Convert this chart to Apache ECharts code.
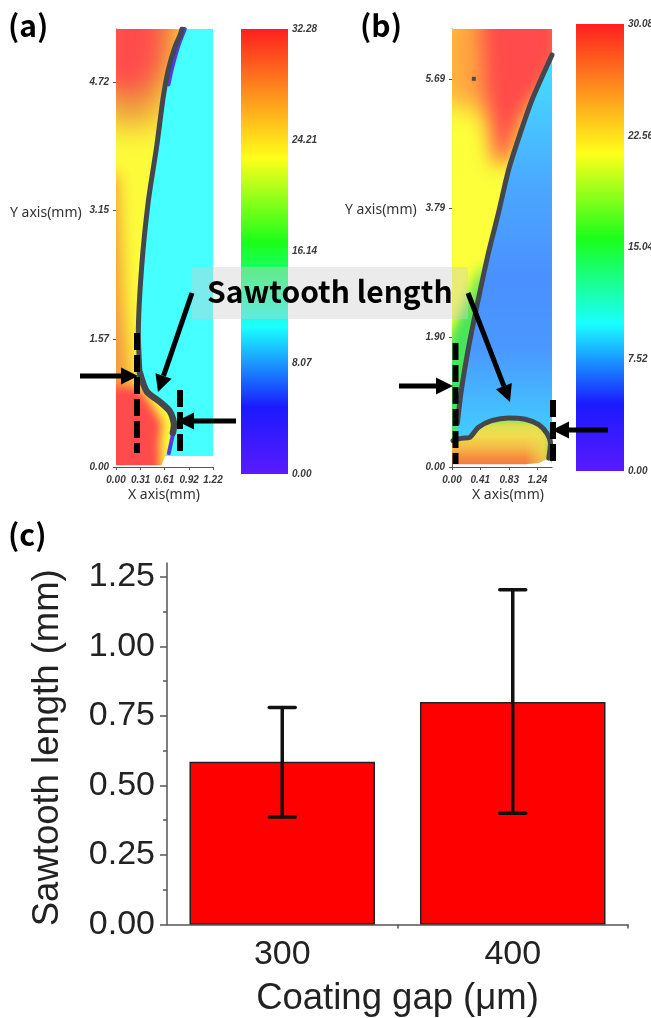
<!DOCTYPE html>
<html>
<head>
<meta charset="utf-8">
<style>html,body{margin:0;padding:0;background:#fff}#c{width:651px;height:1018px;filter:blur(0.6px)}</style>
<script src="https://cdn.jsdelivr.net/npm/echarts@6/dist/echarts.min.js"></script>
</head>
<body>
<div id="c"></div>
<script>
// ---- Panel (a) data, mm ----
const aXTicks = [0, 0.31, 0.61, 0.92, 1.22];
const aYTicks = [0, 1.57, 3.15, 4.72];
const aInterfaceUpper = [[0.83,5.38],[0.805,5.30],[0.742,5.16],[0.658,4.88],[0.595,4.55],[0.512,3.94],[0.407,3.27],[0.323,2.46],[0.281,1.64],[0.302,1.15]];
const aInterfaceLower = [[0.302,1.15],[0.386,0.93],[0.553,0.80],[0.679,0.68],[0.730,0.52],[0.715,0.42]];
const aLiquid = [[0,5.38],[0.83,5.38],[0.742,5.16],[0.658,4.88],[0.595,4.55],[0.512,3.94],[0.407,3.27],[0.323,2.46],[0.281,1.64],[0.302,1.15],[0.386,0.93],[0.553,0.80],[0.679,0.68],[0.730,0.52],[0.688,0.33],[0.637,0.17],[0.574,0.02],[0,0.02]];
const aGas = [[0.83,5.38],[0.742,5.16],[0.658,4.88],[0.595,4.55],[0.512,3.94],[0.407,3.27],[0.323,2.46],[0.281,1.64],[0.302,1.15],[0.386,0.93],[0.553,0.80],[0.679,0.68],[0.730,0.52],[0.688,0.33],[0.637,0.17],[0.62,0.135],[1.22,0.135],[1.22,5.38]];
const aBlank = [[0.62,0.135],[1.22,0.135],[1.22,0],[0,0],[0,0.02],[0.574,0.02]];
const aBlueTop = [[0.865,5.38],[0.78,5.16],[0.70,4.88],[0.66,4.7]];
const aBlueLow = [[0.74,0.5],[0.70,0.33],[0.665,0.17]];
const aZoneOrangeTop = [[-0.2,5.8],[0.95,5.8],[0.75,4.9],[0.52,4.2],[-0.2,4.2]];
const aZoneRedTop = [[-0.2,5.8],[0.62,5.8],[0.55,4.9],[0.35,4.62],[-0.2,4.62]];
const aZoneWall = [[-0.3,3.6],[0.02,3.6],[0.10,2.0],[0.18,1.2],[0.2,0.85],[-0.3,0.85]];
const aZoneRedFoot = [[-0.2,1.0],[0.28,0.98],[0.42,0.8],[0.58,0.55],[0.55,0.3],[0.56,-0.2],[-0.2,-0.2]];
const aBarMax = 32.28;
const aBarTicks = [0, 8.07, 16.14, 24.21, 32.28];

// ---- Panel (b) data, mm ----
const bXTicks = [0, 0.41, 0.83, 1.24];
const bYTicks = [0, 1.90, 3.79, 5.69];
const bUpper = [[1.45,6.04],[1.306,5.72],[1.160,5.38],[0.989,4.89],[0.819,4.35],[0.673,3.72],[0.526,3.13],[0.380,2.45],[0.234,1.72],[0.136,1.13],[0.078,0.64]];
const bLower = [[0.015,0.386],[0.136,0.42],[0.258,0.435],[0.380,0.58],[0.575,0.68],[0.819,0.72],[1.062,0.70],[1.257,0.62],[1.379,0.49],[1.428,0.35],[1.404,0.13]];
const bLiquid = [[0,6.42],[1.45,6.42],[1.45,6.04],[1.306,5.72],[1.160,5.38],[0.989,4.89],[0.819,4.35],[0.673,3.72],[0.526,3.13],[0.380,2.45],[0.234,1.72],[0.136,1.13],[0.078,0.64],[0.05,0.38],[0,0.38]];
const bGas = [[1.45,6.04],[1.306,5.72],[1.160,5.38],[0.989,4.89],[0.819,4.35],[0.673,3.72],[0.526,3.13],[0.380,2.45],[0.234,1.72],[0.136,1.13],[0.078,0.64],[0.05,0.40],[0.136,0.42],[0.258,0.435],[0.380,0.58],[0.575,0.68],[0.819,0.72],[1.062,0.70],[1.257,0.62],[1.379,0.49],[1.428,0.35],[1.404,0.13],[1.45,0.06],[1.45,6.04]];
const bDroplet = [[0,0.39],[0.136,0.42],[0.258,0.435],[0.380,0.58],[0.575,0.68],[0.819,0.72],[1.062,0.70],[1.257,0.62],[1.379,0.49],[1.428,0.35],[1.404,0.13],[1.257,0.06],[1.062,0.04],[0,0.04]];
const bDropRight = [[1.062,0.70],[1.257,0.62],[1.379,0.49],[1.428,0.35],[1.404,0.13],[1.257,0.06],[1.062,0.04]];
const bZoneOrangeTop = [[-0.2,6.7],[1.6,6.7],[1.6,5.8],[0.6,5.2],[-0.2,5.35]];
const bZoneRedWedge = [[0.4,6.7],[1.6,6.7],[1.6,6.0],[1.05,5.15],[0.8,4.45],[0.62,4.45],[0.48,5.4]];
const bZoneGreen = [[0.5,3.0],[0.3,1.4],[0.15,0.4],[-0.2,0.4],[-0.2,1.55],[0.05,2.1],[0.24,2.5],[0.36,2.8]];
const bDot = [[0.317, 5.69]];
const bBarMax = 30.08;
const bBarTicks = [0, 7.52, 15.04, 22.56, 30.08];

// ---- Panel (c) data ----
const gapCategories = ['300', '400'];
const sawtoothMean = [0.585, 0.80];
const sawtoothLow = [0.387, 0.40];
const sawtoothHigh = [0.78, 1.204];
const cMajorTicks = [0, 0.25, 0.5, 0.75, 1.0, 1.25];
const cMinorTicks = [0.125, 0.375, 0.625, 0.875, 1.125];

// ---- Colours ----
const rainbow = [[0,'#ff1f1f'],[0.29,'#ffff1a'],[0.48,'#1aff1a'],[0.67,'#1affff'],[0.85,'#1a1aff'],[1,'#5a1aff']];
const bGasStops = [[0,'#45dcff'],[0.08,'#46d4ff'],[0.32,'#4aa8ff'],[0.55,'#4a90ff'],[0.72,'#4a98ff'],[0.86,'#45bcff'],[1,'#40dcff']];
const bDropStops = [[0,'#8fd850'],[0.18,'#dde050'],[0.4,'#f3dc4c'],[0.65,'#f5b844'],[0.85,'#f58f40'],[1,'#f57a40']];

const G = echarts.graphic.LinearGradient;
const stops = a => a.map(s => ({offset:s[0], color:s[1]}));
const vert = a => new G(0,0,0,1,stops(a));
const horiz = a => new G(0,0,1,0,stops(a));

function poly(name, idx, pts, fill, z){
  return {type:'custom', name, xAxisIndex:idx, yAxisIndex:idx, silent:true, clip:true, z:z||2,
    data:pts, encode:{x:0,y:1},
    renderItem:(p,api)=> p.dataIndex===0 ? {type:'polygon', shape:{points:pts.map(q=>api.coord(q))}, style:{fill}} : null};
}
// A colour zone with a soft edge: only the blurred shadow of the polygon lands in the plot.
function softZone(name, idx, pts, color, blur){
  const off = 3000;
  return {type:'custom', name, xAxisIndex:idx, yAxisIndex:idx, silent:true, clip:true, z:2,
    data:pts, encode:{x:0,y:1},
    renderItem:(p,api)=> {
      if(p.dataIndex!==0) return null;
      return {type:'polygon', shape:{points:pts.map(q=>{const c=api.coord(q);return [c[0]-off,c[1]];})},
        style:{fill:color, shadowColor:color, shadowBlur:blur, shadowOffsetX:off}};
    }};
}
function curve(name, idx, pts, color, width, z){
  return {type:'line', name, xAxisIndex:idx, yAxisIndex:idx, silent:true, data:pts, showSymbol:false, smooth:0.25,
    clip:true, z:z||4, lineStyle:{color, width, cap:'round', join:'round'}};
}

const smallLabel = {fontFamily:'Liberation Sans', fontStyle:'italic', fontWeight:'bold', fontSize:10, color:'#3a3a3a'};
const fix2 = v => v.toFixed(2);

function panelAxes(xMax, yMax, xTicks, yTicks){
  const line = {show:true, onZero:false, lineStyle:{color:'#555', width:1}};
  return [
    {type:'value', min:0, max:xMax, axisLine:line, splitLine:{show:false},
     axisTick:{show:true, length:3, customValues:xTicks, lineStyle:{color:'#555'}},
     axisLabel:Object.assign({show:true, customValues:xTicks, formatter:fix2, margin:8, hideOverlap:false}, smallLabel)},
    {type:'value', min:0, max:yMax, axisLine:line, splitLine:{show:false},
     axisTick:{show:true, length:3, customValues:yTicks, lineStyle:{color:'#555'}},
     axisLabel:Object.assign({show:true, customValues:yTicks, formatter:fix2, margin:7}, smallLabel)}
  ];
}
function barAxes(max, ticks){
  return [
    {type:'category', data:[''], show:false},
    {type:'value', min:0, max, position:'right', axisLine:{show:false}, axisTick:{show:false}, splitLine:{show:false},
     axisLabel:Object.assign({show:true, customValues:ticks, formatter:fix2, margin:4}, smallLabel)}
  ];
}
const pa = panelAxes(1.22, 5.38, aXTicks, aYTicks);
const pb = panelAxes(1.45, 6.42, bXTicks, bYTicks);
const ba = barAxes(aBarMax, aBarTicks);
const bb = barAxes(bBarMax, bBarTicks);

const cFont = 'Liberation Sans';
const xAxes = [pa[0], ba[0], pb[0], bb[0],
  {gridIndex:4, type:'category', data:gapCategories, axisLine:{lineStyle:{color:'#555', width:1.5}},
   axisTick:{alignWithLabel:true, length:7, lineStyle:{color:'#555', width:1.5}},
   axisLabel:{fontFamily:cFont, fontSize:34, color:'#222', margin:13},
   name:'Coating gap (\u03bcm)', nameLocation:'middle', nameGap:56, nameTextStyle:{fontFamily:cFont, fontSize:36.5, color:'#222'}},
  {gridIndex:4, type:'value', min:250, max:450, position:'bottom', axisLine:{show:false}, splitLine:{show:false},
   axisTick:{show:true, length:4, customValues:[350,450], lineStyle:{color:'#555', width:1.5}}, axisLabel:{show:false}}
];
xAxes.forEach((a,i)=>{ if(i<4) a.gridIndex=i; });
const yAxes = [pa[1], ba[1], pb[1], bb[1],
  {gridIndex:4, type:'value', min:0, max:1.3, axisLine:{show:true, lineStyle:{color:'#555', width:1.5}}, splitLine:{show:false},
   axisTick:{show:true, length:7, customValues:cMajorTicks, lineStyle:{color:'#555', width:1.5}},
   axisLabel:{customValues:cMajorTicks, formatter:fix2, fontFamily:cFont, fontSize:34, color:'#222', margin:12},
   name:'Sawtooth length (mm)', nameLocation:'middle', nameRotate:90, nameGap:101, nameTextStyle:{fontFamily:cFont, fontSize:36.5, color:'#222', padding:[0,8,0,0]}},
  {gridIndex:4, type:'value', min:0, max:1.3, position:'left', axisLine:{show:false}, splitLine:{show:false},
   axisTick:{show:true, length:4, customValues:cMinorTicks, lineStyle:{color:'#555', width:1.5}}, axisLabel:{show:false}}
];
yAxes.forEach((a,i)=>{ if(i<4) a.gridIndex=i; });

const series = [
  // panel (a)
  poly('a liquid', 0, aLiquid, '#fcfb3a', 1),
  softZone('a orange top', 0, aZoneOrangeTop, '#ee9a40', 30),
  softZone('a red top', 0, aZoneRedTop, '#ff4c4c', 24),
  softZone('a wall', 0, aZoneWall, '#f59a40', 16),
  softZone('a red foot', 0, aZoneRedFoot, '#ff4b4b', 10),
  poly('a gas', 0, aGas, '#46ffff', 3),
  poly('a blank', 0, aBlank, '#ffffff', 3),
  curve('a blue top', 0, aBlueTop, '#4a3fe6', 4, 4),
  curve('a blue low', 0, aBlueLow, '#4a3fe6', 4, 4),
  curve('a interface upper', 0, aInterfaceUpper, '#45474f', 5, 5),
  curve('a interface lower', 0, aInterfaceLower, '#45474f', 6.5, 5),
  // colour bar (a)
  {type:'bar', xAxisIndex:1, yAxisIndex:1, silent:true, data:[aBarMax], barWidth:'100%', itemStyle:{color:vert(rainbow)}},
  // panel (b)
  poly('b liquid', 2, bLiquid, '#fcff3a', 1),
  softZone('b orange top', 2, bZoneOrangeTop, '#ffa840', 26),
  softZone('b red wedge', 2, bZoneRedWedge, '#ff4b4b', 20),
  softZone('b green', 2, bZoneGreen, '#45e55a', 12),
  poly('b gas', 2, bGas, vert(bGasStops), 3),
  poly('b droplet', 2, bDroplet, vert(bDropStops), 3),
  poly('b droplet side', 2, bDropRight, horiz([[0,'rgba(235,225,80,0)'],[0.7,'rgba(230,225,80,0.7)'],[1,'rgba(170,215,70,0.95)']]), 3),
  curve('b upper', 2, bUpper, '#45474f', 5, 5),
  curve('b lower', 2, bLower, '#45474f', 5, 5),
  {type:'scatter', name:'b dot', xAxisIndex:2, yAxisIndex:2, silent:true, data:bDot, symbol:'rect', symbolSize:4, itemStyle:{color:'#333'}, z:6},
  // colour bar (b)
  {type:'bar', xAxisIndex:3, yAxisIndex:3, silent:true, data:[bBarMax], barWidth:'100%', itemStyle:{color:vert(rainbow)}},
  // panel (c)
  {type:'bar', name:'Sawtooth length', xAxisIndex:4, yAxisIndex:4, silent:true, data:sawtoothMean, barWidth:'80.5%',
   itemStyle:{color:'#ff0000', borderColor:'#222', borderWidth:1.5}},
  {type:'custom', name:'error', xAxisIndex:4, yAxisIndex:4, silent:true, z:6,
   data:gapCategories.map((c,i)=>[i, sawtoothLow[i], sawtoothHigh[i]]), encode:{x:0,y:[1,2]},
   renderItem:(p,api)=>{
     const lo = api.coord([api.value(0), api.value(1)]), hi = api.coord([api.value(0), api.value(2)]);
     const st = {stroke:'#111', lineWidth:3.5, lineCap:'round'};
     const L = (x1,y1,x2,y2)=>({type:'line', shape:{x1,y1,x2,y2}, style:st});
     return {type:'group', children:[L(lo[0],lo[1],hi[0],hi[1]), L(lo[0]-13,lo[1],lo[0]+13,lo[1]), L(hi[0]-13,hi[1],hi[0]+13,hi[1])]};
   }}
];

// ---- Annotations, page pixels ----
function arrow(x1,y1,x2,y2){
  const d = Math.hypot(x2-x1,y2-y1), ux=(x2-x1)/d, uy=(y2-y1)/d, len=17, hw=8.5;
  const bx=x2-ux*len, by=y2-uy*len;
  return [
    {type:'line', z:100, shape:{x1,y1,x2:bx,y2:by}, style:{stroke:'#000', lineWidth:5}},
    {type:'polygon', z:100, shape:{points:[[x2,y2],[bx-uy*hw,by+ux*hw],[bx+uy*hw,by-ux*hw]]}, style:{fill:'#000'}}
  ];
}
const dash = (x,y1,y2)=>({type:'line', z:99, shape:{x1:x,y1,x2:x,y2}, style:{stroke:'#000', lineWidth:6, lineDash:[17,5]}});
const txt = (text,x,y,font,fill,align)=>({type:'text', z:101, x, y, style:{text, font, fill:fill||'#000', align:align||'left', verticalAlign:'middle'}});
const graphic = [
  {type:'rect', z:90, shape:{x:192,y:267,width:276,height:52}, style:{fill:'rgba(205,205,205,0.4)'}},
  txt('Sawtooth length', 207, 292, 'bold 30px "Noto Sans CJK KR"', '#000'),
  txt('(a)', 8, 26, 'bold 30px "Noto Sans CJK KR"'),
  txt('(b)', 360, 26, 'bold 30px "Noto Sans CJK KR"'),
  txt('(c)', 8, 535, 'bold 30px "Noto Sans CJK KR"'),
  txt('Y axis(mm)', 10, 213, '14px "Noto Sans"', '#333'),
  txt('Y axis(mm)', 345, 210, '14px "Noto Sans"', '#333'),
  txt('X axis(mm)', 164, 495, '14px "Noto Sans"', '#333', 'center'),
  txt('X axis(mm)', 508, 495, '14px "Noto Sans"', '#333', 'center'),
  dash(137,333,453), dash(180,390,454), dash(455.5,343,464), dash(553,400,464),
  ...arrow(80,376,138,376), ...arrow(236,421,177,421), ...arrow(192,293,158,392),
  ...arrow(399,386,453,386), ...arrow(608,430,552,430), ...arrow(468,293,510,402)
];

const chart = echarts.init(document.getElementById('c'), null, {renderer:'canvas'});
const noBounds = {outerBoundsMode:'none'};
chart.setOption({
  animation:false,
  backgroundColor:'#fff',
  grid:[
    Object.assign({left:116, top:29, width:97, height:438}, noBounds),
    Object.assign({left:241, top:29, width:47, height:445}, noBounds),
    Object.assign({left:452, top:29, width:100, height:438}, noBounds),
    Object.assign({left:576, top:24, width:48, height:447}, noBounds),
    Object.assign({left:167, top:563, width:461, height:361.5}, noBounds)
  ],
  xAxis:xAxes, yAxis:yAxes, series, graphic
});
</script>
</body>
</html>
